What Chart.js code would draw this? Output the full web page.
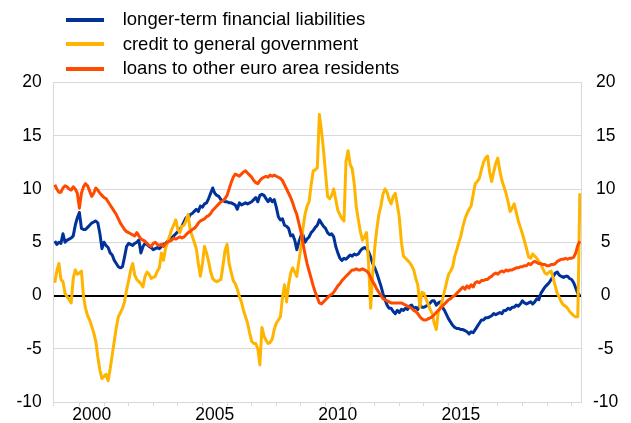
<!DOCTYPE html>
<html>
<head>
<meta charset="utf-8">
<script src="https://cdn.jsdelivr.net/npm/chart.js@4.4.1/dist/chart.umd.min.js"></script>
<style>
  body { margin: 0; background: #fff; }
  #wrap { position: relative; width: 631px; height: 423px; }
  #legend { position: absolute; left: 0; top: 7px; font: 18.5px "Liberation Sans", Arial, sans-serif; color: #000; }
  #legend div { position: relative; height: 24.5px; line-height: 24.5px; padding-left: 122.7px; white-space: nowrap; }
  #legend span { position: absolute; left: 66px; top: 10.5px; width: 38px; height: 4px; }
</style>
</head>
<body>
<div id="wrap">
  <canvas id="chart" width="631" height="423"></canvas>
  <div id="legend"></div>
</div>
<script>
// monthly observations, January 1999 - May 2020 (annual % changes)
var firstYear = 1999;
var seriesNames = ['longer-term financial liabilities', 'credit to general government', 'loans to other euro area residents'];
var seriesColors = ['#003299', '#ffb400', '#ff4b00'];
var yearTicks = [2000, 2001, 2002, 2003, 2004, 2005, 2006, 2007, 2008, 2009, 2010, 2011, 2012, 2013, 2014, 2015, 2016, 2017, 2018, 2019, 2020];
var yearLabels = [2000, 2005, 2010, 2015];

var liabilities = [
  5.1, 4.8, 5.0, 4.9, 5.8, 5.0, 5.2, 5.3, 5.4, 5.6, 6.6, 7.3,
  7.8, 6.3, 6.2, 6.2, 6.4, 6.6, 6.8, 6.9, 7.0, 6.8, 5.8, 4.4,
  5.0, 4.7, 4.5, 4.0, 3.8, 3.3, 3.0, 2.7, 2.6, 2.7, 3.6, 4.6,
  4.9, 4.8, 4.7, 4.9, 5.0, 5.2, 4.0, 4.6, 4.9, 4.8, 4.6, 4.5,
  4.3, 4.4, 4.5, 4.4, 4.6, 4.8, 4.9, 5.1, 5.2, 5.4, 5.6, 5.8,
  6.0, 6.2, 6.5, 6.9, 7.3, 7.2, 7.6, 7.7, 7.9, 8.1, 7.9, 8.4,
  8.3, 8.6, 8.7, 9.1, 9.6, 10.1, 9.6, 9.4, 9.3, 9.0, 8.9, 8.8,
  8.8, 8.7, 8.7, 8.6, 8.5, 8.1, 8.7, 8.5, 8.6, 8.7, 8.6, 8.7,
  8.8, 9.0, 9.2, 8.8, 9.4, 9.5, 9.4, 9.1, 8.8, 9.1, 8.8, 9.0,
  8.3, 7.4, 7.1, 7.2, 6.6, 6.5, 6.3, 5.6, 5.7, 5.2, 4.3, 5.0,
  5.6, 5.7, 5.0, 5.3, 5.5, 5.9, 6.1, 6.4, 6.6, 7.1, 6.8, 6.5,
  6.3, 5.9, 5.7, 5.8, 5.5, 4.6, 4.0, 3.5, 3.3, 3.5, 3.4, 3.6,
  3.8, 3.7, 3.9, 3.8, 3.9, 4.2, 4.4, 4.5, 4.4, 4.1, 3.6, 3.0,
  2.6, 2.1, 1.5, 0.9, 0.2, -0.4, -0.9, -1.2, -1.2, -1.5, -1.7, -1.4,
  -1.6, -1.3, -1.4, -1.2, -1.3, -1.0, -0.9, -1.2, -1.1, -1.3, -0.9, -1.1,
  -1.1, -1.0, -0.9, -0.7, -0.5, -0.5, -0.9, -0.7, -0.6, -1.1, -1.4, -1.8,
  -2.2, -2.5, -2.8, -3.0, -3.1, -3.1, -3.2, -3.2, -3.3, -3.4, -3.6, -3.4,
  -3.5, -3.2, -2.9, -2.6, -2.3, -2.3, -2.1, -2.1, -2.0, -1.9, -1.7, -1.8,
  -1.7, -1.6, -1.7, -1.4, -1.4, -1.2, -1.3, -1.1, -1.1, -0.9, -1.0, -0.8,
  -0.5, -0.7, -0.8, -0.7, -0.6, -0.8, -0.6, -0.3, -0.4, 0.2, 0.5, 0.8,
  1.0, 1.2, 1.5, 1.8, 2.1, 2.2, 1.9, 1.8, 1.7, 1.8, 1.8, 1.6,
  1.5, 1.2, 0.7, 0.2, 0.0
];

var creditGov = [
  1.2, 2.3, 3.0, 1.5, 1.3, 0.2, -0.1, -0.4, -0.7, 1.6, 2.4, 2.0,
  2.1, 2.3, -0.1, -1.2, -1.9, -2.3, -2.9, -3.5, -4.3, -5.8, -7.0, -7.8,
  -7.6, -7.4, -8.0, -6.9, -5.6, -4.3, -3.0, -2.0, -1.6, -1.2, -0.6, 0.5,
  1.4, 2.4, 3.0, 1.9, 1.5, 1.3, 1.1, 0.8, 1.8, 2.2, 2.0, 1.6,
  1.7, 1.8, 2.3, 2.6, 4.0, 3.3, 4.4, 5.0, 5.6, 6.2, 6.6, 7.1,
  6.2, 5.9, 6.5, 6.6, 7.0, 7.6, 6.2, 5.6, 5.0, 4.4, 3.0, 1.8,
  3.0, 4.6, 4.0, 3.2, 2.2, 1.6, 1.4, 1.3, 1.4, 1.5, 2.8, 4.2,
  4.8, 3.0, 2.2, 1.4, 1.1, 0.6, -0.1, -0.6, -1.4, -2.0, -2.6, -3.5,
  -4.3, -4.5, -4.5, -5.0, -6.5, -3.0, -3.8, -4.2, -4.5, -4.4, -4.1, -3.2,
  -2.6, -2.3, -2.0, -0.2, 1.0, -0.6, 1.0, 2.1, 2.6, 2.2, 1.8, 3.2,
  4.5, 6.3, 7.6, 8.4, 8.8, 10.4, 11.7, 11.8, 12.0, 17.0, 15.5, 13.7,
  11.5, 9.3, 9.1, 9.4, 10.0, 9.0, 8.0, 7.6, 7.2, 7.0, 12.6, 13.6,
  12.3, 11.9, 10.5, 8.3, 7.1, 6.0, 5.2, 5.5, 5.9, 3.0, -1.2, 2.0,
  4.5, 6.2, 7.6, 8.4, 9.5, 10.0, 9.7, 9.0, 8.6, 9.3, 9.6, 8.5,
  7.3, 5.0, 3.7, 3.5, 3.3, 3.1, 2.8, 2.4, 1.6, 1.0, -1.1, 0.3,
  0.2, -0.3, -0.8, -1.3, -1.7, -2.6, -3.2, -1.5, -1.1, -0.4, 0.4, 1.2,
  2.0, 2.3, 2.7, 3.7, 4.3, 5.0, 5.6, 6.5, 7.2, 7.7, 8.1, 8.4,
  9.5, 10.5, 10.7, 11.0, 11.8, 12.5, 12.9, 13.1, 11.6, 10.7, 11.6, 12.4,
  12.9, 11.7, 10.8, 10.2, 9.6, 8.8, 7.9, 8.2, 8.6, 7.8, 7.0, 6.4,
  5.8, 5.1, 4.4, 3.6, 3.5, 3.9, 3.7, 3.5, 3.2, 2.9, 2.5, 2.1,
  2.0, 2.2, 2.3, 1.6, 0.9, 0.2, -0.2, -0.6, -0.9, -1.0, -1.2, -1.5,
  -1.7, -1.9, -2.0, -2.0, 9.6
];

var loansOther = [
  10.4, 10.0, 9.7, 9.7, 10.1, 10.3, 10.2, 10.0, 9.9, 10.2, 10.0, 9.6,
  8.2, 9.6, 10.2, 10.5, 10.3, 9.8, 9.3, 9.6, 10.1, 9.9, 9.6, 9.4,
  9.2, 9.1, 8.8, 8.5, 8.2, 7.9, 7.6, 7.2, 6.8, 6.5, 6.2, 6.0,
  5.9, 5.8, 5.7, 5.6, 5.9, 5.6, 5.3, 5.2, 5.1, 4.9, 4.7, 4.6,
  4.9, 5.0, 4.8, 4.7, 4.8, 4.6, 4.9, 5.0, 5.1, 5.2, 5.4, 5.3,
  5.4, 5.5, 5.4, 5.5, 5.7, 5.9, 6.0, 6.2, 6.3, 6.5, 6.8, 7.0,
  7.1, 7.2, 7.4, 7.5, 7.7, 8.0, 8.2, 8.4, 8.6, 8.8, 8.9, 9.1,
  9.4, 10.0, 10.6, 11.1, 11.4, 11.3, 11.2, 11.4, 11.6, 11.7, 11.5, 11.3,
  11.1, 10.8, 10.6, 10.5, 10.8, 11.0, 11.1, 11.2, 11.1, 11.3, 11.2, 11.3,
  11.2, 11.1, 11.0, 10.8, 10.4, 10.0, 9.6, 9.2, 8.7, 8.1, 7.6, 6.8,
  6.0, 4.9, 3.9, 3.0, 2.3, 1.6, 0.9, 0.3, -0.2, -0.7, -0.8, -0.6,
  -0.4, -0.2, 0.0, 0.1, 0.3, 0.6, 0.9, 1.1, 1.4, 1.6, 1.8, 2.0,
  2.2, 2.4, 2.4, 2.5, 2.4, 2.4, 2.5, 2.4, 2.3, 2.1, 1.7, 1.3,
  1.0, 0.6, 0.3, 0.0, -0.3, -0.4, -0.5, -0.6, -0.7, -0.7, -0.7, -0.7,
  -0.7, -0.7, -0.8, -0.9, -1.0, -1.1, -1.2, -1.4, -1.5, -1.7, -2.0, -2.2,
  -2.3, -2.3, -2.2, -2.1, -2.0, -1.8, -1.6, -1.4, -1.2, -1.0, -0.8, -0.6,
  -0.4, -0.3, -0.1, 0.0, 0.2, 0.4, 0.6, 0.8, 0.6, 0.9, 0.7, 1.0,
  0.8, 1.2, 1.3, 1.2, 1.4, 1.4, 1.5, 1.5, 1.7, 1.8, 2.0, 2.1,
  2.0, 2.2, 2.3, 2.2, 2.4, 2.3, 2.4, 2.4, 2.5, 2.6, 2.6, 2.7,
  2.7, 2.8, 2.8, 3.0, 2.9, 3.1, 3.2, 3.1, 3.0, 3.0, 2.9, 2.9,
  2.8, 2.8, 2.9, 2.9, 3.0, 3.2, 3.3, 3.4, 3.4, 3.5, 3.4, 3.5,
  3.5, 3.6, 4.0, 4.7, 5.1
];

var xMin = 1998.94, xMax = 2020.38;
var FONT = '"Liberation Sans", Arial, sans-serif';
var GRID = '#d9d9d9';

function toPoints(values) {
  return values.map(function(v, i) { return { x: firstYear + i / 12, y: v }; });
}

// legend above the plot, one series per row
var legendEl = document.getElementById('legend');
seriesNames.forEach(function(name, i) {
  var row = document.createElement('div');
  var swatch = document.createElement('span');
  swatch.style.background = seriesColors[i];
  row.appendChild(swatch);
  row.appendChild(document.createTextNode(name));
  legendEl.appendChild(row);
});

var isLabelTick = function(v) { return yearLabels.indexOf(v - 0.5) !== -1; };

var lineStyle = { borderWidth: 3, pointRadius: 0, tension: 0, fill: false, borderJoinStyle: 'round' };

new Chart(document.getElementById('chart'), {
  type: 'line',
  data: {
    datasets: [
      Object.assign({ label: seriesNames[0], data: toPoints(liabilities), borderColor: seriesColors[0], order: 2 }, lineStyle),
      Object.assign({ label: seriesNames[1], data: toPoints(creditGov), borderColor: seriesColors[1], order: 1 }, lineStyle),
      Object.assign({ label: seriesNames[2], data: toPoints(loansOther), borderColor: seriesColors[2], order: 0 }, lineStyle)
    ]
  },
  options: {
    responsive: false,
    animation: false,
    layout: { padding: { top: 82.5, left: 0, right: 0, bottom: 0 } },
    plugins: { legend: { display: false }, tooltip: { enabled: false } },
    scales: {
      x: {
        type: 'linear', min: xMin, max: xMax,
        afterBuildTicks: function(scale) {
          var vals = [xMin].concat(yearTicks, yearLabels.map(function(y) { return y + 0.5; }));
          vals.sort(function(a, b) { return a - b; });
          scale.ticks = vals.map(function(v) { return { value: v }; });
        },
        afterFit: function(scale) { scale.height = 21; },
        ticks: {
          autoSkip: false, maxRotation: 0, padding: 0, color: '#000',
          font: { family: FONT, size: 17.5, lineHeight: 1 },
          callback: function(v) { return isLabelTick(v) ? String(v - 0.5) : ''; }
        },
        grid: {
          drawOnChartArea: false, drawTicks: true, tickLength: 4,
          color: function(ctx) { return ctx.tick && isLabelTick(ctx.tick.value) ? 'rgba(0,0,0,0)' : GRID; }
        },
        border: { color: GRID, width: 1 }
      },
      y: {
        position: 'left', min: -10, max: 20,
        afterFit: function(scale) { scale.width = 53.3; },
        ticks: { stepSize: 5, padding: 11.5, color: '#000', font: { family: FONT, size: 17.5, lineHeight: 1 } },
        grid: {
          drawTicks: false,
          color: function(ctx) { return ctx.tick && ctx.tick.value === 0 ? '#000' : GRID; },
          lineWidth: function(ctx) { return ctx.tick && ctx.tick.value === 0 ? 2 : 1; }
        },
        border: { color: GRID, width: 1 }
      },
      y2: {
        position: 'right', min: -10, max: 20,
        afterFit: function(scale) { scale.width = 50; },
        ticks: { stepSize: 5, padding: 12, crossAlign: 'center', color: '#000', font: { family: FONT, size: 17.5, lineHeight: 1 } },
        grid: { drawOnChartArea: false, drawTicks: false },
        border: { color: GRID, width: 1 }
      }
    }
  }
});
</script>
</body>
</html>
